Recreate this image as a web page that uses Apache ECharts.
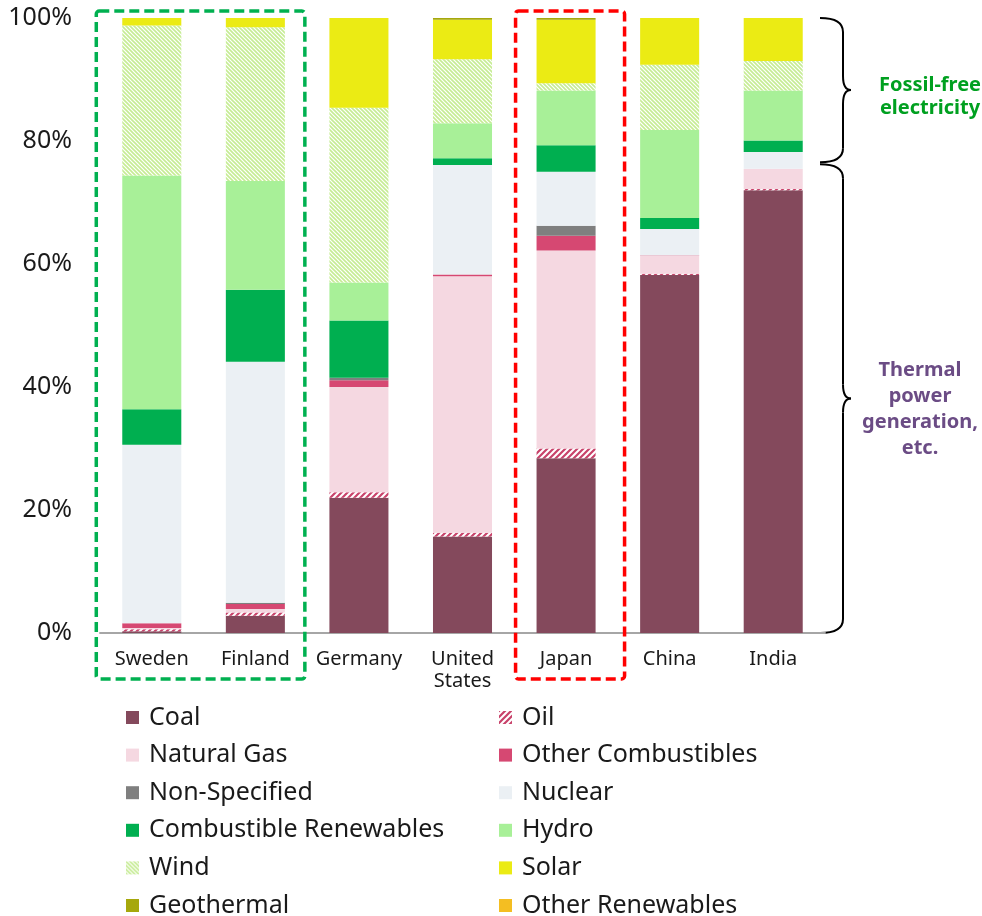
<!DOCTYPE html>
<html>
<head>
<meta charset="utf-8">
<script src="https://cdn.jsdelivr.net/npm/echarts@6/dist/echarts.min.js"></script>
<style>
  html, body { margin: 0; padding: 0; background: #fff; }
  #chart { width: 982px; height: 916px; }
</style>
</head>
<body>
<div id="chart"></div>
<script>
// countries, bottom-to-top stack order of sources (percent of generation)
const countries = ['Sweden', 'Finland', 'Germany', 'United\nStates', 'Japan', 'China', 'India']
const coal = [0.3, 2.8, 22.0, 15.7, 28.4, 58.2, 72.0]
const oil = [0.3, 0.55, 0.9, 0.6, 1.6, 0.2, 0.2]
const naturalGas = [0.2, 0.55, 17.1, 41.7, 32.2, 2.9, 3.3]
const otherCombustibles = [0.8, 0.8, 1.1, 0.3, 2.4, 0.1, 0]
const nonSpecified = [0, 0.2, 0.4, 0, 1.6, 0, 0]
const nuclear = [29.0, 39.2, 0, 17.8, 8.8, 4.3, 2.7]
const combustibleRenewables = [5.8, 11.7, 9.3, 1.1, 4.3, 1.8, 1.9]
const hydro = [38.0, 17.7, 6.2, 5.7, 8.9, 14.3, 8.1]
const wind = [24.4, 25.0, 28.4, 10.4, 1.2, 10.6, 4.8]
const solar = [1.2, 1.5, 14.6, 6.4, 10.3, 7.6, 7.0]
const geothermal = [0, 0, 0, 0.3, 0.3, 0, 0]
const otherRenewables = [0, 0, 0, 0, 0, 0, 0]
const yTicks = [0, 20, 40, 60, 80, 100]

const FONT = 'Noto Sans'

// diagonal hatch fill, dir 1 = '/', -1 = '\'
function stripes(color, size, width, dir) {
  const c = document.createElement('canvas')
  c.width = size
  c.height = size
  const ctx = c.getContext('2d')
  ctx.fillStyle = '#fff'
  ctx.fillRect(0, 0, size, size)
  ctx.strokeStyle = color
  ctx.lineWidth = width
  ctx.beginPath()
  for (let k = -1; k <= 1; k++) {
    const o = k * size
    if (dir > 0) {
      ctx.moveTo(o - 1, size + 1)
      ctx.lineTo(o + size + 1, -1)
    } else {
      ctx.moveTo(o - 1, -1)
      ctx.lineTo(o + size + 1, size + 1)
    }
  }
  ctx.stroke()
  return { image: c, repeat: 'repeat' }
}

const seriesDefs = [
  ['Coal', coal, '#84495C'],
  ['Oil', oil, stripes('#C8426A', 6, 2.2, 1)],
  ['Natural Gas', naturalGas, '#F5D8E1'],
  ['Other Combustibles', otherCombustibles, '#D64872'],
  ['Non-Specified', nonSpecified, '#7F7F7F'],
  ['Nuclear', nuclear, '#EBF0F4'],
  ['Combustible Renewables', combustibleRenewables, '#00AF50'],
  ['Hydro', hydro, '#A8F098'],
  ['Wind', wind, stripes('#C6EC94', 4, 1.6, -1)],
  ['Solar', solar, '#EBEB14'],
  ['Geothermal', geothermal, '#A6A80C'],
  ['Other Renewables', otherRenewables, '#F4BE22']
]

const chart = echarts.init(document.getElementById('chart'))

// one small legend per entry, laid out as two columns of six rows
const legends = seriesDefs.map((d, i) => ({
  left: i % 2 === 0 ? 121 : 494,
  top: 700 + Math.floor(i / 2) * 37.6,
  itemWidth: 13,
  itemHeight: 13,
  icon: 'rect',
  selectedMode: false,
  textStyle: {
    fontFamily: FONT,
    fontSize: 25,
    color: '#1a1a1a',
    padding: [0, 0, 0, 5]
  },
  data: [d[0]]
}))

const option = {
  animation: false,
  textStyle: { fontFamily: FONT },
  grid: {
    left: 100,
    right: 157,
    top: 18,
    bottom: 283
  },
  legend: legends,
  xAxis: {
    type: 'category',
    data: countries,
    axisLine: {
      show: true,
      lineStyle: { color: '#A6A6A6', width: 2 }
    },
    axisTick: { show: false },
    axisLabel: {
      interval: 0,
      color: '#1a1a1a',
      fontSize: 20,
      lineHeight: 22,
      margin: 15,
      fontFamily: FONT
    },
    splitLine: { show: false }
  },
  yAxis: {
    type: 'value',
    min: yTicks[0],
    max: yTicks[yTicks.length - 1],
    interval: 20,
    axisLine: { show: false },
    axisTick: { show: false },
    splitLine: { show: false },
    axisLabel: {
      color: '#1a1a1a',
      fontSize: 25,
      margin: 28,
      fontFamily: FONT,
      formatter: '{value}%'
    }
  },
  series: seriesDefs.map(d => ({
    name: d[0],
    type: 'bar',
    stack: 'total',
    barWidth: '57%',
    data: d[1],
    itemStyle: { color: d[2] },
    emphasis: { disabled: true }
  }))
}

chart.setOption(option)

// annotations: dashed boxes and braces placed from the axes
function px(cat, val) {
  return chart.convertToPixel({ gridIndex: 0 }, [cat, val])
}
const swe = px('Sweden', 100)
const fin = px('Finland', 0)
const jpn = px('Japan', 0)
const boxTop = swe[1] - 7
const boxBottom = fin[1] + 46
const ySplit = px('India', 76.4)[1]
const yZero = fin[1]
const yFull = swe[1]
const braceX = 820

// right curly brace from y1 to y2 as curve + line pieces
function brace(x, y1, y2) {
  const xs = x + 23
  const xt = x + 31
  const ym = (y1 + y2) / 2
  const r = 14
  const st = { fill: null, stroke: '#000', lineWidth: 2 }
  const curve = (a, b, c, d, e, f) => ({
    type: 'bezierCurve',
    shape: { x1: a, y1: b, cpx1: c, cpy1: d, x2: e, y2: f },
    style: st
  })
  const line = (a, b, c, d) => ({
    type: 'line',
    shape: { x1: a, y1: b, x2: c, y2: d },
    style: st
  })
  return [
    curve(x, y1, xs, y1, xs, y1 + r),
    line(xs, y1 + r, xs, ym - r),
    curve(xs, ym - r, xs, ym, xt, ym),
    curve(xt, ym, xs, ym, xs, ym + r),
    line(xs, ym + r, xs, y2 - r),
    curve(xs, y2 - r, xs, y2, x, y2)
  ]
}

chart.setOption({
  graphic: [
    {
      type: 'rect',
      shape: { x: swe[0] - 55.5, y: boxTop, width: (fin[0] + 49.5) - (swe[0] - 55.5), height: boxBottom - boxTop, r: 3 },
      style: { fill: null, stroke: '#00B050', lineWidth: 3.5, lineDash: [10, 5] },
      z: 100
    },
    {
      type: 'rect',
      shape: { x: jpn[0] - 50.5, y: boxTop, width: 109, height: boxBottom - boxTop, r: 3 },
      style: { fill: null, stroke: '#FF0000', lineWidth: 3.5, lineDash: [10, 5] },
      z: 100
    },
    ...brace(braceX, yFull, ySplit - 1),
    ...brace(braceX, ySplit + 1, yZero),
    {
      type: 'text',
      x: 930,
      y: 97,
      style: {
        text: 'Fossil-free\nelectricity',
        fill: '#00A020',
        font: 'bold 20px "' + FONT + '"',
        lineHeight: 23,
        align: 'center',
        verticalAlign: 'middle'
      }
    },
    {
      type: 'text',
      x: 920,
      y: 409,
      style: {
        text: 'Thermal\npower\ngeneration,\netc.',
        fill: '#6B4C85',
        font: 'bold 20px "' + FONT + '"',
        lineHeight: 26,
        align: 'center',
        verticalAlign: 'middle'
      }
    }
  ]
})
</script>
</body>
</html>
